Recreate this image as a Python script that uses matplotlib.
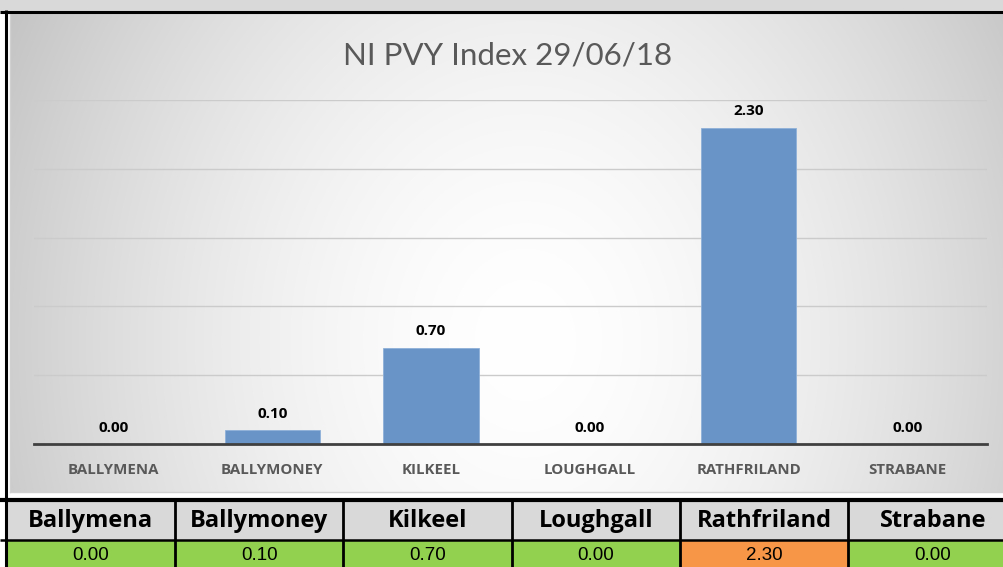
import numpy as np
import matplotlib.pyplot as plt
from matplotlib.patches import Rectangle

sites = ["Ballymena", "Ballymoney", "Kilkeel", "Loughgall", "Rathfriland", "Strabane"]
pvy = [0.00, 0.10, 0.70, 0.00, 2.30, 0.00]
cell_colors = ["#92d050", "#92d050", "#92d050", "#92d050", "#f79646", "#92d050"]
title = "NI PVY Index 29/06/18"

W, H = 1004, 567
fig = plt.figure(figsize=(W / 100, H / 100), dpi=100)
fig.patch.set_facecolor("white")


def box(x0, y0, x1, y1):
    # pixel box (top-left origin) -> figure rect
    return [x0 / W, 1 - y1 / H, (x1 - x0) / W, (y1 - y0) / H]


# chart background with a radial gradient
bg = fig.add_axes(box(10, 13, W, 492), zorder=1)
px, py = np.meshgrid(np.arange(10, W), np.arange(13, 492))
r = np.sqrt(((px - 525) / 500) ** 2 + ((py - 340) / 600) ** 2)
shade = np.clip(1 - 0.18 * r ** 1.67, 0, 1)
bg.imshow(np.dstack([shade] * 3), aspect="auto", interpolation="bilinear")
bg.set_xticks([])
bg.set_yticks([])
for s in bg.spines.values():
    s.set_color("#d0d0d0")
    s.set_linewidth(1)

# bar chart
ax = fig.add_axes(box(34, 100, 987, 444), zorder=2)
ax.patch.set_alpha(0)
x = np.arange(len(sites))
ax.bar(x, pvy, width=0.6, color="#6894c8", edgecolor="#8fb0d8", linewidth=0.6, zorder=3)
ax.set_xlim(-0.5, len(sites) - 0.5)
ax.set_ylim(0, 2.5)
ax.set_yticks(np.arange(0.5, 2.51, 0.5))
ax.yaxis.grid(True, color="#cbcbcb", lw=1)
ax.tick_params(axis="y", length=0, labelleft=False)
ax.set_xticks(x)
ax.set_xticklabels([s.upper() for s in sites], fontfamily="Open Sans", fontweight="bold",
                   fontsize=10.8, color="#595959")
ax.tick_params(axis="x", length=0, pad=14)
for side in ["top", "left", "right"]:
    ax.spines[side].set_visible(False)
ax.spines["bottom"].set_color("#404040")
ax.spines["bottom"].set_linewidth(2)
ax.spines["bottom"].set_zorder(4)
for xi, v in zip(x, pvy):
    ax.annotate(f"{v:.2f}", (xi, v), xytext=(0, 9), textcoords="offset points",
                ha="center", va="baseline", fontfamily="Open Sans", fontweight="bold",
                fontsize=11, color="black")

fig.text(508 / W, 1 - 55 / H, title, ha="center", va="center", fontfamily="Lato",
         fontsize=22.5, color="#595959", zorder=5)

# table under the chart, plus the frame, drawn in pixel units
tab = fig.add_axes([0, 0, 1, 1], zorder=3)
tab.set_xlim(0, W)
tab.set_ylim(H, 0)
tab.axis("off")
tab.add_patch(Rectangle((0, 0), W, 11, facecolor="#d9d9d9", lw=0, zorder=0))
x0, cw = 6.5, 168.4
top, mid, bot = 500, 539.5, 580
for i, (name, v, c) in enumerate(zip(sites, pvy, cell_colors)):
    left = x0 + i * cw
    tab.add_patch(Rectangle((left, top), cw, mid - top, facecolor="#d9d9d9", lw=0))
    tab.add_patch(Rectangle((left, mid), cw, bot - mid, facecolor=c, lw=0))
    tab.text(left + cw / 2, (top + mid) / 2 + 1, name, ha="center", va="center",
             fontfamily="Open Sans", fontweight="bold", fontsize=17, color="black")
    tab.text(left + cw / 2, 555, f"{v:.2f}", ha="center", va="center",
             fontfamily="Liberation Sans", fontsize=13.5, color="black")
    tab.plot([left, left], [top, bot], color="black", lw=2, solid_capstyle="butt")
tab.plot([x0 + 6 * cw] * 2, [top, bot], color="black", lw=2)
tab.plot([0, W], [top, top], color="black", lw=3, solid_capstyle="butt")
tab.plot([0, W], [mid, mid], color="black", lw=1.8, solid_capstyle="butt")

# frame lines
tab.plot([0, W], [11.5, 11.5], color="black", lw=2.2, solid_capstyle="butt")
tab.plot([6.5, 6.5], [10, H], color="black", lw=2.2, solid_capstyle="butt")

fig.savefig("out.png", dpi=100)
